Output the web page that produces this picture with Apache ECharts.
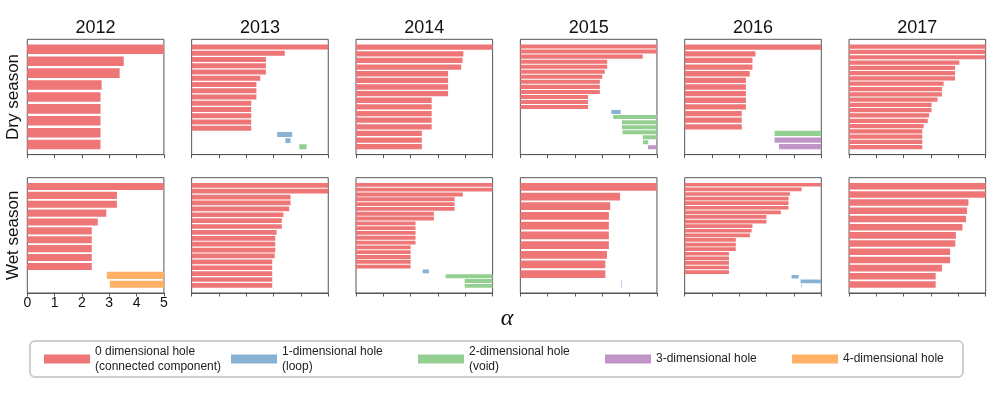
<!DOCTYPE html>
<html>
<head>
<meta charset="utf-8">
<script src="https://cdn.jsdelivr.net/npm/echarts@6/dist/echarts.min.js"></script>
<style>
  html, body { margin: 0; padding: 0; background: #fff; }
  #chart { width: 997px; height: 398px; }
</style>
</head>
<body>
<div id="chart"></div>
<script>
// barcode rows from top to bottom: [dimension, birth, death]
var years = ['2012', '2013', '2014', '2015', '2016', '2017'];
var seasons = ['Dry season', 'Wet season'];
var dimNames = ['0 dimensional hole\n(connected component)', '1-dimensional hole\n(loop)',
                '2-dimensional hole\n(void)', '3-dimensional hole', '4-dimensional hole'];
var dimColors = ['#ef7677', '#87b2d4', '#94cf92', '#c195c8', '#ffb266'];
var xTicks = [0, 1, 2, 3, 4, 5];

var dry2012 = [[0,0,5],[0,0,3.53],[0,0,3.38],[0,0,2.72],[0,0,2.68],[0,0,2.68],[0,0,2.68],[0,0,2.68],[0,0,2.68]];
var dry2013 = [[0,0,5],[0,0,3.41],[0,0,2.72],[0,0,2.72],[0,0,2.72],[0,0,2.51],[0,0,2.37],[0,0,2.37],[0,0,2.37],
               [0,0,2.18],[0,0,2.18],[0,0,2.18],[0,0,2.18],[0,0,2.18],[1,3.13,3.68],[1,3.43,3.62],[2,3.94,4.21]];
var dry2014 = [[0,0,5],[0,0,3.93],[0,0,3.90],[0,0,3.85],[0,0,3.37],[0,0,3.37],[0,0,3.37],[0,0,3.37],
               [0,0,2.77],[0,0,2.77],[0,0,2.77],[0,0,2.77],[0,0,2.77],[0,0,2.41],[0,0,2.41],[0,0,2.41]];
var dry2015 = [[0,0,5],[0,0,5],[0,0,4.48],[0,0,3.18],[0,0,3.18],[0,0,3.09],[0,0,3.0],[0,0,2.91],[0,0,2.91],
               [0,0,2.91],[0,0,2.48],[0,0,2.48],[0,0,2.48],[1,3.33,3.67],[2,3.40,5],[2,3.72,5],[2,3.72,5],
               [2,3.74,5],[2,4.48,5],[2,4.49,4.68],[3,4.67,5]];
var dry2016 = [[0,0,5],[0,0,2.59],[0,0,2.48],[0,0,2.48],[0,0,2.38],[0,0,2.24],[0,0,2.24],[0,0,2.24],
               [0,0,2.24],[0,0,2.24],[0,0,2.09],[0,0,2.09],[0,0,2.09],[2,3.29,5],[3,3.29,5],[3,3.45,5]];
var dry2017 = [[0,0,5],[0,0,5],[0,0,5],[0,0,4.04],[0,0,3.88],[0,0,3.88],[0,0,3.88],[0,0,3.46],[0,0,3.40],
               [0,0,3.40],[0,0,3.24],[0,0,3.02],[0,0,3.02],[0,0,2.93],[0,0,2.88],[0,0,2.73],[0,0,2.68],
               [0,0,2.68],[0,0,2.68],[0,0,2.68]];
var wet2012 = [[0,0,5],[0,0,3.28],[0,0,3.28],[0,0,2.89],[0,0,2.58],[0,0,2.36],[0,0,2.36],[0,0,2.36],
               [0,0,2.36],[0,0,2.36],[4,2.91,5],[4,3.02,5]];
var wet2013 = [[0,0,5],[0,0,5],[0,0,3.62],[0,0,3.62],[0,0,3.57],[0,0,3.36],[0,0,3.30],[0,0,3.30],[0,0,3.11],
               [0,0,3.06],[0,0,3.06],[0,0,3.06],[0,0,3.04],[0,0,2.95],[0,0,2.95],[0,0,2.95],[0,0,2.95],[0,0,2.95]];
var wet2014 = [[0,0,5],[0,0,5],[0,0,3.91],[0,0,3.61],[0,0,3.61],[0,0,3.61],[0,0,2.85],[0,0,2.85],
               [0,0,2.18],[0,0,2.18],[0,0,2.18],[0,0,2.18],[0,0,2.18],[0,0,2.0],[0,0,2.0],[0,0,2.0],
               [0,0,2.0],[0,0,2.0],[1,2.44,2.67],[2,3.28,5],[2,3.98,5],[2,3.98,5]];
var wet2015 = [[0,0,5],[0,0,3.65],[0,0,3.29],[0,0,3.24],[0,0,3.24],[0,0,3.24],[0,0,3.24],[0,0,3.17],
               [0,0,3.11],[0,0,3.11],[1,3.70,3.72]];
var wet2016 = [[0,0,5],[0,0,4.28],[0,0,3.85],[0,0,3.80],[0,0,3.80],[0,0,3.80],[0,0,3.52],[0,0,2.99],
               [0,0,2.99],[0,0,2.48],[0,0,2.45],[0,0,2.39],[0,0,1.87],[0,0,1.87],[0,0,1.87],[0,0,1.62],
               [0,0,1.62],[0,0,1.62],[0,0,1.62],[0,0,1.62],[1,3.91,4.17],[1,4.24,5],[1,4.27,4.29]];
var wet2017 = [[0,0,5],[0,0,5],[0,0,4.37],[0,0,4.32],[0,0,4.28],[0,0,4.15],[0,0,3.91],[0,0,3.89],
               [0,0,3.70],[0,0,3.70],[0,0,3.40],[0,0,3.17],[0,0,3.17]];

var panels = [dry2012, dry2013, dry2014, dry2015, dry2016, dry2017,
              wet2012, wet2013, wet2014, wet2015, wet2016, wet2017];

var FONT = 'Liberation Sans, Arial, sans-serif';
var panelLeft = 27.3, panelStep = 164.35, panelW = 136.6, panelH = 115.3;
var rowTops = [39.3, 177.7];
var frameColor = '#555';

var grids = [], xAxes = [], yAxes = [], series = [], graphics = [];

var renderBar = function(params, api){
	var s = api.coord([api.value(0), api.value(2)]);
	var e = api.coord([api.value(1), api.value(2)]);
	var h = api.size([0, 0.8])[1];
	return {
		type: 'rect',
		shape: { x: s[0], y: s[1] - h / 2, width: Math.max(e[0] - s[0], 0.6), height: h },
		style: { fill: api.visual('color') }
	};
};

for(var i = 0; i < panels.length; i ++){
	var col = i % 6, row = Math.floor(i / 6);
	var rows = panels[i];
	var n = rows.length;
	var m = 0.05 * (n - 0.2);
	grids.push({
		left: panelLeft + col * panelStep, top: rowTops[row], width: panelW, height: panelH,
		show: true, borderColor: frameColor, borderWidth: 1, backgroundColor: '#fff'
	});
	xAxes.push({
		type: 'value', gridIndex: i, min: 0, max: 5, interval: 1, position: 'bottom',
		axisLine: { show: true, onZero: false, lineStyle: { color: frameColor, width: 1 } },
		axisTick: { show: true, length: 3.5, lineStyle: { color: frameColor } },
		axisLabel: { show: i == 6, fontSize: 14, color: '#111', margin: 3, fontFamily: FONT,
			formatter: function(v){ return xTicks.indexOf(v) > -1 ? String(v) : ''; } },
		splitLine: { show: false }
	});
	yAxes.push({
		type: 'value', gridIndex: i, inverse: true, min: -0.4 - m, max: n - 0.6 + m,
		axisLine: { show: false, onZero: false }, axisTick: { show: false }, axisLabel: { show: false },
		splitLine: { show: false }
	});
	for(var d = 0; d < dimNames.length; d ++){
		var data = [];
		for(var r = 0; r < n; r ++){
			if(rows[r][0] == d){
				data.push([rows[r][1], rows[r][2], r]);
			}
		}
		series.push({
			type: 'custom', name: dimNames[d], xAxisIndex: i, yAxisIndex: i,
			itemStyle: { color: dimColors[d] },
			renderItem: renderBar, data: data, silent: true, clip: true,
			encode: { x: [0, 1], y: 2 }
		});
	}
}

// year titles
for(var c = 0; c < years.length; c ++){
	graphics.push({
		type: 'text', x: panelLeft + c * panelStep + panelW / 2, y: 28.5,
		style: { text: years[c], font: '18px ' + FONT, fill: '#111', textAlign: 'center', textVerticalAlign: 'middle' }
	});
}
// season labels
for(var s = 0; s < seasons.length; s ++){
	graphics.push({
		type: 'text', x: 13.5, y: rowTops[s] + panelH / 2, rotation: Math.PI / 2,
		style: { text: seasons[s], font: '17px ' + FONT, fill: '#111', textAlign: 'center', textVerticalAlign: 'middle' }
	});
}
// alpha axis label
graphics.push({
	type: 'text', x: 507, y: 319,
	style: { text: 'α', font: 'italic 24px "Liberation Serif", "DejaVu Serif", serif', fill: '#111',
		textAlign: 'center', textVerticalAlign: 'middle' }
});

var legendData = [];
for(var k = 0; k < dimNames.length; k ++){
	var item = { name: dimNames[k] };
	if(k == dimNames.length - 1){
		item.textStyle = { width: 104 };
	}
	legendData.push(item);
}

var chart = echarts.init(document.getElementById('chart'), null, { renderer: 'canvas' });
chart.setOption({
	animation: false,
	backgroundColor: '#fff',
	grid: grids,
	xAxis: xAxes,
	yAxis: yAxes,
	series: series,
	graphic: graphics,
	legend: {
		data: legendData,
		left: 30, top: 341,
		icon: 'rect', itemWidth: 46, itemHeight: 9, itemGap: 6,
		padding: [3, 16, 3, 14],
		borderColor: '#cfcfcf', borderWidth: 2, borderRadius: 5,
		selectedMode: false,
		textStyle: { fontSize: 12, color: '#222', lineHeight: 15, width: 130, fontFamily: FONT }
	}
});
</script>
</body>
</html>
